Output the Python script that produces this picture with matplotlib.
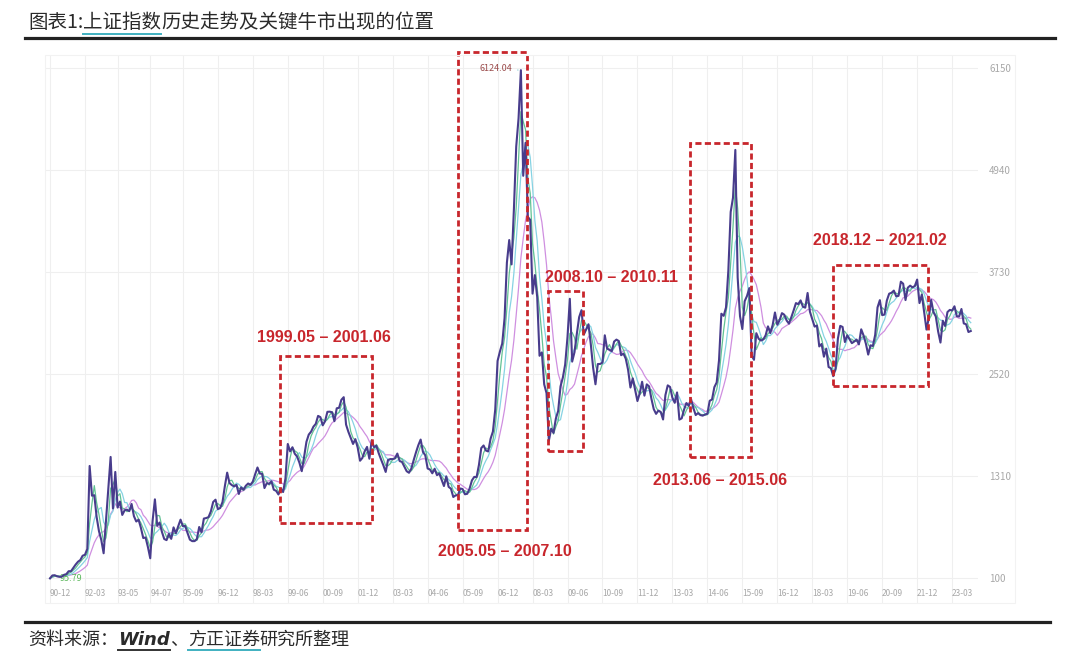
import numpy as np
import pandas as pd
import matplotlib
matplotlib.use('Agg')
import matplotlib.pyplot as plt
from matplotlib.patches import Rectangle
from matplotlib.lines import Line2D

# monthly values of the Shanghai Composite, starting 1990-12
close_1990s = [
    95.79,
    129.97, 133.01, 120.19, 113.94, 114.83, 137.56, 145.61, 180.92, 180.21, 218.89, 259.60, 292.75,
    313.24, 364.32, 375.51, 445.5, 1429.0, 1076.0, 1082.0, 823.0, 656.0, 551.0, 393.5, 780.4,
    1167.0, 1536.0, 925.0, 1358.0, 935.0, 1007.0, 848.0, 902.0, 911.0, 893.0, 978.0, 833.8,
    770.0, 792.0, 694.0, 574.0, 581.0, 467.0, 333.9, 777.0, 1033.0, 720.0, 758.0, 647.9,
    562.6, 549.3, 624.2, 564.2, 700.5, 630.6, 713.8, 792.2, 715.4, 717.1, 633.4, 555.3,
    537.3, 537.4, 562.0, 705.0, 643.0, 805.0, 811.0, 822.0, 890.0, 1002.0, 1029.0, 917.0,
    930.0, 1001.0, 1188.0, 1350.0, 1226.0, 1202.0, 1186.0, 1205.0, 1097.0, 1175.0, 1147.0, 1194.0,
    1221, 1206, 1243, 1330, 1411, 1339, 1336, 1167, 1225, 1217, 1247, 1147,
    1134, 1091, 1158, 1120, 1280, 1690, 1602, 1651, 1574, 1541, 1467, 1367,
]
close_2000s = [
    1535, 1715, 1801, 1836, 1895, 1928, 2023, 2008, 1911, 1961, 2071, 2073,
    2066, 1960, 2113, 2119, 2214, 2245, 1920, 1834, 1762, 1690, 1747, 1646,
    1491, 1524, 1603, 1655, 1515, 1733, 1652, 1669, 1581, 1507, 1437, 1358,
    1500, 1511, 1510, 1521, 1576, 1487, 1477, 1421, 1367, 1348, 1397, 1497,
    1590, 1675, 1742, 1595, 1555, 1399, 1387, 1342, 1396, 1320, 1340, 1267,
    1191, 1306, 1181, 1159, 1061, 1080, 1083, 1162, 1155, 1093, 1099, 1161,
    1258, 1299, 1298, 1440, 1641, 1672, 1612, 1601, 1752, 1837, 2099, 2675,
    2786, 2881, 3183, 3841, 4109, 3820, 4471, 5218, 5552, 6124.04, 4871, 5262,
    4383, 4348, 3473, 3693, 3433, 2736, 2776, 2397, 2293, 1729, 1871, 1821,
    1991, 2082, 2373, 2477, 2633, 2959, 3412, 2667, 2779, 2996, 3195, 3277,
]
close_2010s = [
    2989, 3051, 3110, 2871, 2592, 2398, 2638, 2639, 2656, 2979, 2820, 2808,
    2791, 2905, 2928, 2911, 2743, 2762, 2701, 2568, 2359, 2468, 2333, 2199,
    2292, 2428, 2263, 2397, 2373, 2226, 2103, 2047, 2086, 2069, 1980, 2269,
    2385, 2366, 2237, 2178, 2301, 1979, 1994, 2098, 2175, 2142, 2221, 2116,
    2033, 2056, 2033, 2026, 2039, 2048, 2202, 2217, 2364, 2420, 2683, 3235,
    3210, 3310, 3748, 4442, 4612, 5178, 3664, 3206, 3053, 3383, 3445, 3539,
    2738, 2688, 3004, 2938, 2917, 2930, 2979, 3085, 3005, 3100, 3250, 3104,
    3159, 3242, 3223, 3155, 3117, 3192, 3273, 3361, 3349, 3393, 3317, 3307,
    3481, 3259, 3169, 3082, 3095, 2847, 2876, 2725, 2821, 2603, 2588, 2494,
    2585, 2941, 3091, 3078, 2899, 2979, 2933, 2886, 2905, 2929, 2871, 3050,
]
close_2020s = [
    2977, 2880, 2750, 2860, 2852, 2985, 3310, 3396, 3218, 3225, 3392, 3473,
    3483, 3509, 3442, 3447, 3615, 3591, 3397, 3544, 3568, 3547, 3564, 3640,
    3361, 3462, 3252, 3047, 3186, 3399, 3253, 3202, 3024, 2893, 3151, 3089,
    3255, 3280, 3273, 3323, 3205, 3202, 3291, 3120, 3110, 3018, 3030,
]

tick_labels = ['90-12', '92-03', '93-05', '94-07', '95-09', '96-12', '98-03', '99-06',
               '00-09', '01-12', '03-03', '04-06', '05-09', '06-12', '08-03', '09-06',
               '10-09', '11-12', '13-03', '14-06', '15-09', '16-12', '18-03', '19-06',
               '20-09', '21-12', '23-03']
y_ticks = [100, 1310, 2520, 3730, 4940, 6150]

bull_labels = ['1999.05 – 2001.06', '2005.05 – 2007.10', '2008.10 – 2010.11',
               '2013.06 – 2015.06', '2018.12 – 2021.02']

close = np.array(close_1990s + close_2000s + close_2010s + close_2020s, dtype=float)
x = np.arange(len(close))
s = pd.Series(close)
ma3 = s.rolling(3, min_periods=1).mean()
ma6 = s.rolling(6, min_periods=1).mean()
ma12 = s.rolling(12, min_periods=1).mean()


def month_index(lbl):
    yy, mm = int(lbl[:2]), int(lbl[3:])
    year = 1900 + yy if yy > 50 else 2000 + yy
    return (year - 1990) * 12 + mm - 12


plt.rcParams['font.family'] = ['Noto Sans CJK SC', 'DejaVu Sans']

W, H = 1080, 662
fig = plt.figure(figsize=(10.8, 6.62), dpi=100)
ax = fig.add_axes([45 / W, 1 - 603 / H, 933 / W, 548 / H])

ax.plot(x, ma12, color='#cf8fe0', lw=0.9, zorder=2)
ax.plot(x, ma6, color='#86d3e3', lw=0.9, zorder=3)
ax.plot(x, ma3, color='#62c294', lw=0.9, zorder=3)
ax.plot(x, close, color='#483c8c', lw=1.5, zorder=4)

ax.set_xlim(-2.15, 398.1)
ax.set_ylim(-196.6, 6304)
ax.set_xticks([month_index(l) for l in tick_labels])
ax.set_xticklabels(tick_labels, ha='left')
ax.tick_params(axis='x', length=0, pad=-10, labelsize=6, labelcolor='#a8a8a8')
ax.yaxis.tick_right()
ax.set_yticks(y_ticks)
ax.tick_params(axis='y', length=0, pad=8, labelsize=7, labelcolor='#a8a8a8')
ax.grid(True, color='#efefef', lw=0.8)
for sp in ax.spines.values():
    sp.set_visible(False)

# dashed boxes around bull markets: (left, right, low, high) in months / index points
boxes = [(98.7, 138.1, 752, 2733), (175.0, 204.6, 669, 6340), (213.6, 228.7, 1607, 3505),
         (274.6, 300.7, 1535, 5260), (335.9, 376.7, 2378, 3813)]
label_pos = [(117.5, 2947, 'center'), (195.2, 420, 'center'), (212.4, 3659, 'left'),
             (287.4, 1251, 'center'), (356.0, 4098, 'center')]
red = '#c8262c'
for (x0, x1, y0, y1), (lx, ly, ha), txt in zip(boxes, label_pos, bull_labels):
    ax.add_patch(Rectangle((x0, y0), x1 - x0, y1 - y0, fill=False, edgecolor=red,
                           lw=2, linestyle=(0, (2.2, 1.2)), clip_on=False, zorder=6))
    ax.text(lx, ly, txt, ha=ha, va='center', fontsize=11.5, fontweight='bold', color=red,
            family=['Liberation Sans', 'DejaVu Sans'], zorder=7)

pk = int(close.argmax())
ax.annotate(f'{close[pk]:.2f}', xy=(pk, close[pk]), xytext=(198.2, 6138), ha='right',
            va='center', fontsize=6.5, color='#9b4c4c',
            arrowprops=dict(arrowstyle='-', color='#8fd3d8', lw=0.8))
mn = int(close.argmin())
ax.annotate(f'{close[mn]:.2f}', xy=(mn, close[mn]), xytext=(7, 0), textcoords='offset points',
            ha='left', va='center', fontsize=6.5, color='#5cb85c')

# faint panel frame
fig.add_artist(Rectangle((45 / W, 1 - 603 / H), 970 / W, 548 / H, fill=False,
                         edgecolor='#f2f2f2', lw=0.8, transform=fig.transFigure))

# header and footer rules
fig.add_artist(Line2D([25 / W, 1055 / W], [1 - 38 / H] * 2, color='#222222', lw=2.3))
fig.add_artist(Line2D([25 / W, 1050 / W], [1 - 622 / H] * 2, color='#222222', lw=2.3))

renderer = fig.canvas.get_renderer()


def write_pieces(pieces, x0, y, size, drop):
    xpos = x0
    for txt, kw, uline in pieces:
        t = fig.text(xpos, y, txt, fontsize=size, va='center', ha='left', color='#2a2a2a', **kw)
        bb = t.get_window_extent(renderer).transformed(fig.transFigure.inverted())
        if uline:
            uy = bb.y0 - drop / H
            fig.add_artist(Line2D([bb.x0, bb.x1], [uy, uy], color=uline, lw=1.4))
        xpos = bb.x1


teal = '#3fb0c0'
write_pieces([('图表1:', {}, None), ('上证指数', {}, teal),
              ('历史走势及关键牛市出现的位置', {}, None)], 28 / W, 1 - 22 / H, 14, 1)
write_pieces([('资料来源：', {'style': 'italic'}, None),
              ('Wind', {'style': 'italic', 'fontweight': 'bold', 'family': ['DejaVu Sans']}, '#333333'),
              ('、', {}, None), ('方正证券', {'style': 'italic'}, teal),
              ('研究所整理', {'style': 'italic'}, None)], 28 / W, 1 - 640 / H, 13, 1)

fig.savefig('out.png', dpi=100, facecolor='white')
